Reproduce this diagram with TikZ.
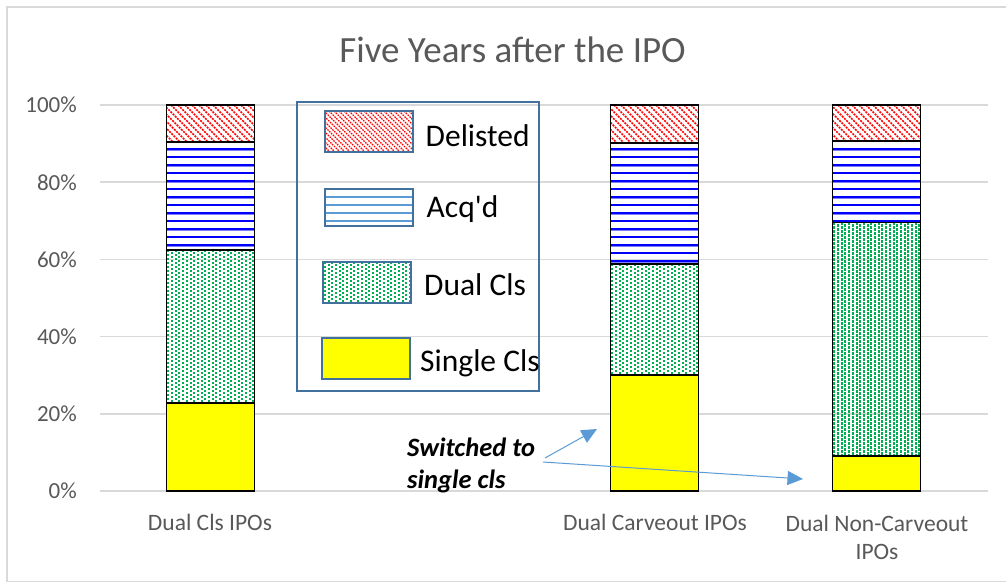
\documentclass[tikz,border=0pt]{standalone}
\usepackage{fontspec}
\setmainfont{Carlito}
\usetikzlibrary{arrows.meta}
\definecolor{axisgray}{HTML}{595959}
\definecolor{gridgray}{HTML}{D9D9D9}
\definecolor{legblue}{HTML}{41719C}
\definecolor{arrblue}{HTML}{5B9BD5}
\definecolor{dotgreen}{HTML}{00B050}
\definecolor{acqblue}{HTML}{0000FF}
\definecolor{acqlight}{HTML}{7F7FFF}
\definecolor{sglyellow}{HTML}{FFFF00}
\definecolor{delred}{HTML}{FF0000}
\tikzset{
  delline/.style={draw=delred, line width=1.6pt, dash pattern=on 2pt off 1.1pt},
  dellegline/.style={draw=delred, line width=1.2pt, dash pattern=on 1.6pt off 1pt},
  acqthick/.style={draw=acqlight, line width=3pt},
  acqthickcore/.style={draw=acqblue, line width=1.4pt},
  acqthin/.style={draw=acqblue, line width=1.3pt},
  acqlegline/.style={draw=arrblue, line width=1.1pt},
  dotline/.style={draw=dotgreen, line width=2pt, dash pattern=on 2.2pt off 1.8pt},
  segborder/.style={draw=black, line width=1.6pt},
  swatchborder/.style={draw=legblue, line width=2.4pt},
  gridline/.style={draw=gridgray, line width=1.5pt},
  ticklab/.style={font=\fontsize{23}{28}\selectfont, text=axisgray, inner sep=0pt},
  catlab/.style={font=\fontsize{23.5}{28}\selectfont, text=axisgray, inner sep=0pt},
  leglab/.style={font=\fontsize{31.5}{36}\selectfont, text=black, inner sep=0pt, anchor=base west},
  notelab/.style={font=\fontsize{26.5}{32}\selectfont\bfseries\itshape, text=black, inner sep=0pt, anchor=base west},
  callout/.style={draw=arrblue, line width=1pt, -{Triangle[length=15.5pt,width=14pt]}},
}
% diagonal red pattern: #1 x1, #2 y1, #3 x2, #4 y2, #5 spacing, #6 style
\newcommand\patDel[6]{%
  \begin{scope}
    \clip (#1,#2) rectangle (#3,#4);
    \pgfmathtruncatemacro\dcs{#1-#4-#5}
    \pgfmathtruncatemacro\dcn{\dcs+#5}
    \pgfmathtruncatemacro\dce{#3-#2+#5}
    \foreach \c in {\dcs,\dcn,...,\dce}{\draw[#6] ({\c+#2},#2) -- ({\c+#4},#4);}
  \end{scope}}
% horizontal blue lines
\newcommand\patAcq[4]{%
  \begin{scope}
    \clip (#1,#2) rectangle (#3,#4);
    \foreach \k in {0,...,15}{%
      \pgfmathsetmacro\yy{149+8*\k}
      \ifodd\k
        \draw[acqthin] (#1,\yy) -- (#3,\yy);
      \else
        \draw[acqthick] (#1,\yy) -- (#3,\yy);
        \draw[acqthickcore] (#1,\yy) -- (#3,\yy);
      \fi}
  \end{scope}}
% green dots
\newcommand\patDot[4]{%
  \begin{scope}
    \clip (#1,#2) rectangle (#3,#4);
    \foreach \j in {0,...,26}{%
      \pgfmathsetmacro\xx{#1+1.8+3.7*\j}
      \ifodd\j
        \draw[dotline, dash phase=2pt] (\xx,#2) -- (\xx,#4);
      \else
        \draw[dotline] (\xx,#2) -- (\xx,#4);
      \fi}
  \end{scope}}
% stacked bar: x1, x2, top of single, top of dual, top of acq
\newcommand\stackbar[5]{%
  \fill[sglyellow] (#1,491) rectangle (#2,#3);
  \patDot{#1}{#4}{#2}{#3}
  \patAcq{#1}{#5}{#2}{#4}
  \patDel{#1}{105}{#2}{#5}{7}{delline}
  \draw[segborder] (#1,491) rectangle (#2,#3);
  \draw[segborder] (#1,#3) rectangle (#2,#4);
  \draw[segborder] (#1,#4) rectangle (#2,#5);
  \draw[segborder] (#1,#5) rectangle (#2,105);
}
\begin{document}
\begin{tikzpicture}[x=1pt,y=-1pt]
\useasboundingbox (0,0) rectangle (1006,583);
\fill[white] (0,0) rectangle (1006,583);
% chart area border
\draw[gridline] (7,7) rectangle (1012,581.5);
% title
\node[font=\fontsize{37}{44}\selectfont, text=axisgray, inner sep=0pt, anchor=base] (title) at (512.5,63) {Five Years after the IPO};
% gridlines and tick labels
\foreach \i/\lab in {0/0\%,1/20\%,2/40\%,3/60\%,4/80\%,5/100\%}{%
  \pgfmathsetmacro\gy{491-77.2*\i}
  \draw[gridline] (100,\gy) -- (988,\gy);
  \node[ticklab, anchor=base east] (tick\i) at (77,\gy+7.8) {\lab};
}
% bars
\stackbar{166.5}{254.5}{403}{250}{141.7}
\stackbar{610.5}{698.5}{375}{264}{142.7}
\stackbar{832.5}{920.5}{456}{222.3}{140.7}
% category labels
\node[catlab, anchor=base] (cat1) at (210,530) {Dual Cls IPOs};
\node[catlab, anchor=base] (cat2) at (655,530) {Dual Carveout IPOs};
\node[catlab, anchor=base] (cat3a) at (877,531) {Dual Non-Carveout};
\node[catlab, anchor=base] (cat3b) at (877,559) {IPOs};
% legend
\draw[draw=legblue, line width=2pt] (297,102) rectangle (539,391);
\patDel{325}{111}{413}{152}{5}{dellegline}
\draw[swatchborder] (325,111) rectangle (413,152);
\foreach \yy in {197,205,213,221}{\draw[acqlegline] (325,\yy) -- (413,\yy);}
\draw[swatchborder] (325,189) rectangle (413,226);
\patDot{323}{262}{411}{303}
\draw[swatchborder] (323,262) rectangle (411,303);
\draw[swatchborder, fill=sglyellow] (322,338) rectangle (410,379);
\node[leglab] (legdel) at (425.5,146.7) {Delisted};
\node[leglab] (legacq) at (426.5,217.7) {Acq\textquotesingle d};
\node[leglab] (legdual) at (424,295) {Dual Cls};
\node[leglab] (legsgl) at (420,371.7) {Single Cls};
% note with arrows
\node[notelab] (note1) at (407,456) {Switched to};
\node[notelab] (note2) at (407,488) {single cls};
\coordinate (a1s) at (545,458);
\coordinate (a1e) at (597,429);
\coordinate (a2s) at (543,462);
\coordinate (a2e) at (803,479);
\draw[callout] (a1s) -- (a1e);
\draw[callout] (a2s) -- (a2e);
\end{tikzpicture}
\end{document}
